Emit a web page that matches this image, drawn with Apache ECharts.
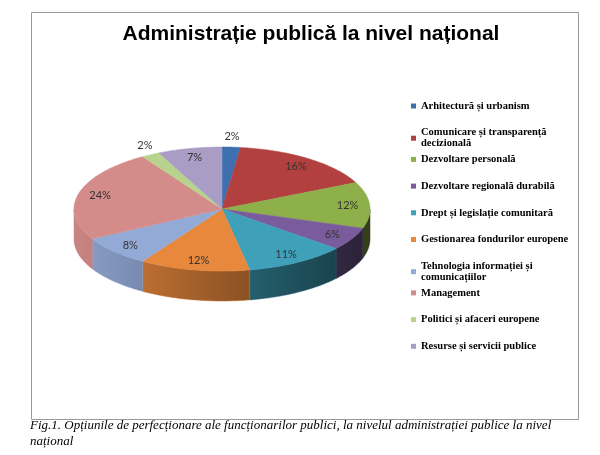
<!DOCTYPE html>
<html>
<head>
<meta charset="utf-8">
<script src="https://cdn.jsdelivr.net/npm/echarts@6/dist/echarts.min.js"></script>
<style>
  html, body { margin: 0; padding: 0; background: #fff; }
  #chart { width: 600px; height: 455px; }
</style>
</head>
<body>
<div id="chart"></div>
<script>
const categories = [
    'Arhitectură și urbanism',
    'Comunicare și transparență decizională',
    'Dezvoltare personală',
    'Dezvoltare regională durabilă',
    'Drept și legislație comunitară',
    'Gestionarea fondurilor europene',
    'Tehnologia informației și comunicațiilor',
    'Management',
    'Politici și afaceri europene',
    'Resurse și servicii publice'
];
const legendLabels = [
    'Arhitectură și urbanism',
    'Comunicare și transparență\ndecizională',
    'Dezvoltare personală',
    'Dezvoltare regională durabilă',
    'Drept și legislație comunitară',
    'Gestionarea fondurilor europene',
    'Tehnologia informației și\ncomunicațiilor',
    'Management',
    'Politici și afaceri europene',
    'Resurse și servicii publice'
];
const values = [2, 16, 12, 6, 11, 12, 8, 24, 2, 7];
const colors = ['#3E70B0', '#B2403E', '#8DB04A', '#7A5C9C', '#3FA0B9',
                '#E8883D', '#94AAD6', '#D48C8A', '#B8D38E', '#A99CC5'];

// geometry of the tilted pie
const CX = 222, CY = 209, RX = 148, RY = 62, DEPTH = 30;

const total = values.reduce((a, b) => a + b, 0);
const starts = [];
let acc = 0;
values.forEach(v => { starts.push(acc); acc += v; });

function pt(theta, dy) {
    return [CX + RX * Math.sin(theta), CY - RY * Math.cos(theta) + (dy || 0)];
}
function arc(a, b, dy) {
    const pts = [];
    const n = Math.max(2, Math.ceil((b - a) / (Math.PI / 180)));
    for (let i = 0; i <= n; i++) pts.push(pt(a + (b - a) * i / n, dy));
    return pts;
}
// side wall gets darker towards the right
function shade(hex, theta) {
    const f = 0.65 - 0.3 * Math.sin(theta);
    const r = parseInt(hex.slice(1, 3), 16), g = parseInt(hex.slice(3, 5), 16), b = parseInt(hex.slice(5, 7), 16);
    const c = x => Math.max(0, Math.min(255, Math.round(x * f)));
    return 'rgb(' + c(r) + ',' + c(g) + ',' + c(b) + ')';
}

const myChart = echarts.init(document.getElementById('chart'));

const series = categories.map((name, i) => ({
    name: name,
    type: 'custom',
    coordinateSystem: 'none',
    itemStyle: {color: colors[i]},
    data: [values[i]],
    renderItem: (params, api) => {
        const col = colors[i];
        const a = starts[i] / total * 2 * Math.PI;
        const b = (starts[i] + values[i]) / total * 2 * Math.PI;
        const children = [];
        const sa = Math.max(a, Math.PI / 2), sb = Math.min(b, 3 * Math.PI / 2);
        if (sb > sa) {
            const top = arc(sa, sb, 0);
            const bottom = arc(sa, sb, DEPTH).reverse();
            const left = shade(col, sb), right = shade(col, sa);
            children.push({
                type: 'polygon',
                shape: {points: top.concat(bottom)},
                style: {
                    fill: {type: 'linear', x: 0, y: 0, x2: 1, y2: 0,
                        colorStops: [{offset: 0, color: left}, {offset: 1, color: right}]},
                    stroke: left, lineWidth: 0.5
                }
            });
        }
        children.push({
            type: 'polygon',
            shape: {points: [[CX, CY]].concat(arc(a, b, 0))},
            style: {fill: col, stroke: col, lineWidth: 0.5}
        });
        const mid = (a + b) / 2;
        let lx, ly;
        if (values[i] / total < 0.03) {
            const p = pt(mid, 0);
            lx = p[0] + Math.sin(mid) * 12;
            ly = p[1] - Math.cos(mid) * 11;
        } else {
            lx = CX + 0.85 * RX * Math.sin(mid);
            ly = CY - 0.85 * RY * Math.cos(mid);
        }
        children.push({
            type: 'text',
            style: {
                text: Math.round(values[i] / total * 100) + '%',
                x: lx, y: ly, align: 'center', verticalAlign: 'middle',
                fontSize: 11, fontFamily: 'Lato', fill: '#333'
            }
        });
        return {type: 'group', children: children};
    }
}));

const option = {
    animation: false,
    title: {
        text: 'Administrație publică la nivel național',
        left: 306,
        textAlign: 'center',
        top: 19,
        textStyle: {fontFamily: 'Liberation Sans', fontWeight: 'bold', fontSize: 21, color: '#000'}
    },
    legend: categories.map((name, i) => ({
        data: [name],
        left: 411,
        top: 100.5 + i * 26.7,
        padding: 0,
        icon: 'rect',
        itemWidth: 5,
        itemHeight: 5,
        selectedMode: false,
        formatter: () => legendLabels[i],
        textStyle: {fontFamily: 'Liberation Serif', fontWeight: 'bold', fontSize: 10.5, lineHeight: 11, color: '#000'}
    })),
    graphic: [
        {
            type: 'rect', z: -1,
            shape: {x: 31.5, y: 12.5, width: 547, height: 407},
            style: {fill: 'none', stroke: '#9a9a9a', lineWidth: 1}
        },
        {
            type: 'text', left: 30, top: 418,
            style: {
                text: 'Fig.1. Opțiunile de perfecționare ale funcționarilor publici, la nivelul administrației publice la nivel\nnațional',
                fontFamily: 'Liberation Serif', fontStyle: 'italic', fontSize: 13, lineHeight: 16, fill: '#000'
            }
        }
    ],
    series: series
};

option && myChart.setOption(option);
</script>
</body>
</html>
